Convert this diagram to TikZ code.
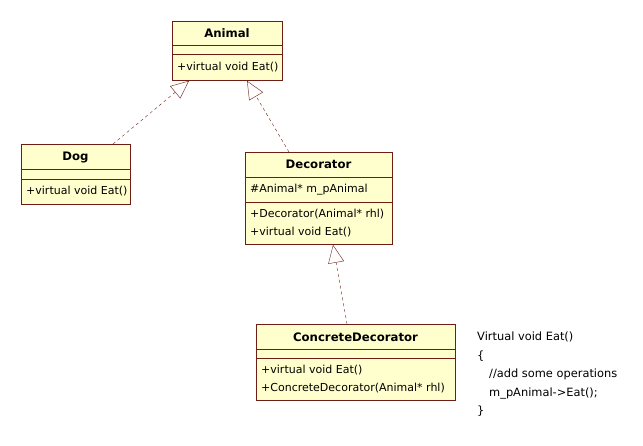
\documentclass[tikz,border=0pt]{standalone}
\usepackage{fontspec}
\setmainfont{DejaVu Sans}
\usetikzlibrary{arrows.meta}
\definecolor{umlfill}{RGB}{255,255,206}
\definecolor{umlline}{RGB}{110,30,20}
\begin{document}
\begin{tikzpicture}[x=1pt, y=-1pt, font=\fontsize{11}{13}\selectfont,
        every node/.append style={inner sep=0pt}]
      \tikzstyle{klass} = [draw=umlline, fill=umlfill, line width=0.8pt, anchor=north west]
      \tikzstyle{title} = [font=\fontsize{11.7}{13}\selectfont\bfseries]
      \tikzstyle{member} = [anchor=west]
      \tikzstyle{divider} = [umlline, line width=0.8pt]
      \tikzstyle{realize} = [umlline, dash pattern=on 3pt off 3pt,
        -{Triangle[open, length=18pt, width=16pt, fill=white]}]
      \useasboundingbox (0,0) rectangle (643,445);
      % Animal
      \node (Animal) [klass, minimum width=110pt, minimum height=59pt] at (172,21) {};
      \node [title] at (227,33) {Animal};
      \draw [divider] (Animal.west |- 0,45) -- (Animal.east |- 0,45);
      \draw [divider] (Animal.west |- 0,54) -- (Animal.east |- 0,54);
      \node [member] at (177,67) {+virtual void Eat()};
      % Dog
      \node (Dog) [klass, minimum width=109pt, minimum height=60pt] at (21,144) {};
      \node [title] at (75.5,157) {Dog};
      \draw [divider] (Dog.west |- 0,169) -- (Dog.east |- 0,169);
      \draw [divider] (Dog.west |- 0,179) -- (Dog.east |- 0,179);
      \node [member] at (26,191) {+virtual void Eat()};
      % Decorator
      \node (Decorator) [klass, minimum width=147pt, minimum height=92pt] at (245,152) {};
      \node [title] at (318.5,164) {Decorator};
      \draw [divider] (Decorator.west |- 0,177) -- (Decorator.east |- 0,177);
      \draw [divider] (Decorator.west |- 0,202) -- (Decorator.east |- 0,202);
      \node [member] at (250,190) {\#Animal* m\_pAnimal};
      \node [member] at (250,214) {+Decorator(Animal* rhl)};
      \node [member] at (250,232) {+virtual void Eat()};
      % ConcreteDecorator
      \node (Concrete) [klass, minimum width=199pt, minimum height=76pt] at (256,324) {};
      \node [title] at (355.5,337) {ConcreteDecorator};
      \draw [divider] (Concrete.west |- 0,349) -- (Concrete.east |- 0,349);
      \draw [divider] (Concrete.west |- 0,358) -- (Concrete.east |- 0,358);
      \node [member] at (261,370) {+virtual void Eat()};
      \node [member] at (261,388) {+ConcreteDecorator(Animal* rhl)};
      % note
      \node (code) [anchor=north west, align=left, font=\fontsize{11.4}{18.4}\selectfont]
        at (477,332) {Virtual void Eat()\\\{\\\hspace*{12pt}//add some operations\\\hspace*{12pt}m\_pAnimal->Eat();\\\}};
      % realizations
      \draw [realize] (113,0 |- Dog.north) -- (189,0 |- Animal.south);
      \draw [realize] (289,0 |- Decorator.north) -- (247,0 |- Animal.south);
      \draw [realize] (347,0 |- Concrete.north) -- (333,0 |- Decorator.south);
\end{tikzpicture}
\end{document}
